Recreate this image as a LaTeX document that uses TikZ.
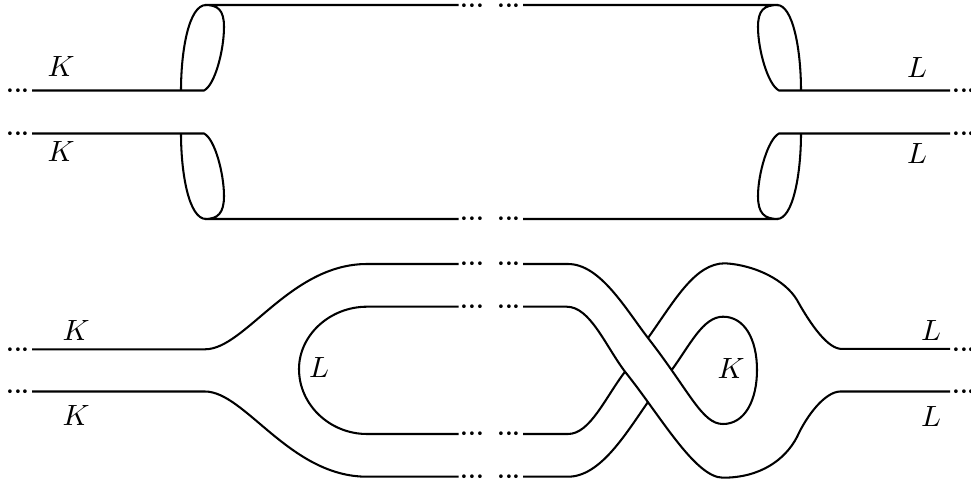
\documentclass[tikz,border=0pt]{standalone}
\usepackage{amsmath,amssymb}
\newcommand{\threedots}{\large${\cdot}\mkern-1mu{\cdot}\mkern-1mu{\cdot}$}
\begin{document}
\begin{tikzpicture}[x=.012cm,y=-.012cm,line width=.7pt]
  \tikzstyle{dd}=[inner sep=0pt,anchor=base,yshift=-3pt]
  \tikzstyle{lab}=[inner sep=0pt]
  \useasboundingbox (0,0) rectangle (971,481);
  % Points de suspension
  \foreach \y/\n in {5.5/a,219/b,264/c,306.7/d,434/e,476.7/f} {
    \node[dd] (m\n) at (472.5,\y) {\threedots};
    \node[dd] (p\n) at (509,\y) {\threedots};
  }
  \foreach \y/\n in {90.5/a,133.5/b,349.3/c,391.5/d} {
    \node[dd] (l\n) at (18,\y) {\threedots};
    \node[dd] (r\n) at (964,\y) {\threedots};
  }
  % Haut, gauche
  \draw (32,90.5)--(204,90.5) .. controls (215,85) and (224,50) .. (224,27)
    .. controls (224,10) and (218,5) .. (205,5) -- (458.5,5);
  \draw (181,90.5) .. controls (181,50) and (189,5) .. (206,5);
  \draw (32,133.5)--(204,133.5) .. controls (215,139) and (224,174) .. (224,196)
    .. controls (224,213) and (218,219) .. (205,219) -- (458.5,219);
  \draw (181,133.5) .. controls (181,174) and (189,219) .. (206,219);
  % Haut, droite
  \draw (950,90.5)--(779,90.5) .. controls (768,85) and (758,50) .. (758,27)
    .. controls (758,10) and (764,5) .. (778,5) -- (523,5);
  \draw (801,90.5) .. controls (801,50) and (793,5) .. (777,5);
  \draw (950,133.5)--(779,133.5) .. controls (768,139) and (758,174) .. (758,196)
    .. controls (758,213) and (764,219) .. (778,219) -- (523,219);
  \draw (801,133.5) .. controls (801,174) and (793,219) .. (777,219);
  % Bas, gauche
  \draw (32,349.3)--(205,349.3) .. controls (245,349.3) and (290,264) .. (367,264) -- (458.5,264);
  \draw (32,391.5)--(205,391.5) .. controls (245,391.5) and (290,476.7) .. (367,476.7) -- (458.5,476.7);
  \draw (458.5,306.7)--(367,306.7) .. controls (330,306.7) and (299,335) .. (299,369)
    .. controls (299,405) and (330,434) .. (367,434) -- (458.5,434);
  % Bas, droite : brins dessus
  \draw (523,264)--(568,264) .. controls (600,264) and (625,308) .. (648,338)
    .. controls (690,392) and (702,424) .. (723,424)
    .. controls (745,424) and (757,400) .. (757,370)
    .. controls (757,340) and (745,316.7) .. (723,316.7)
    .. controls (703,316.7) and (690,345) .. (671.7,370);
  \draw (523,306.7)--(566.7,306.7) .. controls (590,306.7) and (605,345) .. (625,371.7)
    .. controls (660,415) and (695,477.7) .. (723,477.7)
    .. controls (760,477.7) and (785,460) .. (797,437)
    .. controls (807,415) and (825,392) .. (840,391.5) -- (950,391.5);
  % Brins dessous
  \draw (625,371.7) .. controls (605,398) and (590,434) .. (568,434) -- (523,434);
  \draw (523,476.7)--(568,476.7) .. controls (600,476.7) and (625,435) .. (648,402);
  \draw (648,338) .. controls (675,300) and (695,263.3) .. (725,263.3)
    .. controls (755,265) and (785,280) .. (797,300)
    .. controls (807,318) and (825,347) .. (840,348.8) -- (950,348.8);
  % Etiquettes
  \node[lab] (k1) at (61,66) {$K$};
  \node[lab] (k2) at (61,151) {$K$};
  \node[lab] (l1) at (917,67) {$L$};
  \node[lab] (l2) at (917,153) {$L$};
  \node[lab] (k3) at (76,330) {$K$};
  \node[lab] (k4) at (76,415) {$K$};
  \node[lab] (l3) at (931,330) {$L$};
  \node[lab] (l4) at (931,416) {$L$};
  \node[lab] (l5) at (319,367) {$L$};
  \node[lab] (k5) at (731,368) {$K$};
\end{tikzpicture}
\end{document}
